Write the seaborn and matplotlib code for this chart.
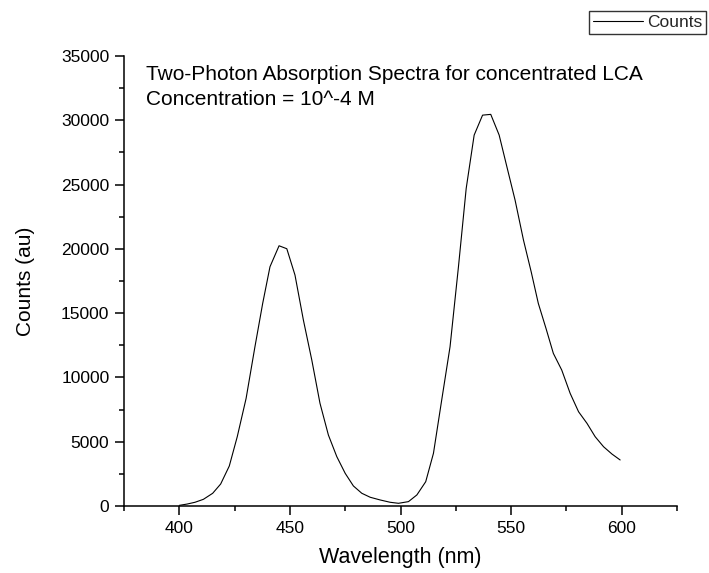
import matplotlib
matplotlib.use("Agg")
import matplotlib.pyplot as plt
import seaborn as sns
import pandas as pd
from matplotlib.ticker import MultipleLocator
from matplotlib.lines import Line2D

wavelength = [400.0, 403.5, 407.1, 410.9, 415.1, 418.7, 422.6, 426.2, 430.2, 434.2,
              437.7, 441.0, 445.1, 448.6, 452.3, 456.1, 459.9, 463.6, 467.4, 471.2,
              475.0, 478.7, 482.5, 486.3, 490.8, 495.3, 499.1, 503.6, 507.4, 511.4,
              514.9, 518.4, 522.4, 526.2, 529.7, 533.3, 537.1, 540.8, 544.6, 548.1,
              551.8, 555.6, 559.1, 562.3, 565.8, 569.1, 572.9, 576.7, 580.5, 584.3,
              588.0, 591.8, 595.6, 599.3]
counts = [50, 150, 290, 520, 990, 1710, 3110, 5390, 8370, 12390,
          15760, 18610, 20240, 20010, 17960, 14460, 11350, 7990, 5520, 3840,
          2540, 1560, 990, 680, 470, 290, 210, 340, 860, 1890,
          4100, 7990, 12390, 18610, 24700, 28850, 30400, 30460, 28850, 26380,
          23790, 20680, 18200, 15760, 13800, 11870, 10570, 8760, 7330, 6430,
          5390, 4610, 4040, 3580]

series_label = "Counts"
x_label = "Wavelength (nm)"
y_label = "Counts (au)"
annotation = "Two-Photon Absorption Spectra for concentrated LCA\nConcentration = 10^-4 M"

sns.set_theme(style="ticks")
plt.rcParams['font.family'] = ['Liberation Sans', 'DejaVu Sans']

df = pd.DataFrame({"Wavelength": wavelength, "Counts": counts, "series": series_label})

fig = plt.figure(figsize=(7.09, 5.73), dpi=100)
ax = fig.add_axes([124 / 709, 1 - 506 / 573, (677 - 124) / 709, (506 - 56) / 573])

sns.lineplot(data=df, x="Wavelength", y="Counts", hue="series", palette=["black"],
             linewidth=0.8, ax=ax, legend=False)

ax.set_xlim(375, 625)
ax.set_ylim(0, 35000)
ax.xaxis.set_major_locator(MultipleLocator(50))
ax.xaxis.set_minor_locator(MultipleLocator(25))
ax.yaxis.set_major_locator(MultipleLocator(5000))
ax.yaxis.set_minor_locator(MultipleLocator(2500))

for s in ["top", "right"]:
    ax.spines[s].set_visible(False)
for s in ["left", "bottom"]:
    ax.spines[s].set_linewidth(1.1)
    ax.spines[s].set_color("black")

ax.tick_params(axis="both", which="major", length=6.5, width=1.1, color="black",
               labelsize=12.5, labelcolor="black", pad=4, direction="out")
ax.tick_params(axis="both", which="minor", length=3.5, width=1.1, color="black",
               direction="out")

ax.set_xlabel(x_label, fontsize=15.5, color="black", labelpad=8)
ax.set_ylabel(y_label, fontsize=15, color="black", labelpad=19)

ax.text(0.04, 0.98, annotation, transform=ax.transAxes, fontsize=15,
        va="top", ha="left", color="black", linespacing=1.4)

handle = Line2D([], [], color="black", linewidth=0.8)
leg = fig.legend([handle], [series_label], loc="upper right",
                 bbox_to_anchor=(706 / 709, 1 - 11 / 573),
                 fontsize=12.5, frameon=True, fancybox=False, shadow=False,
                 handlelength=2.9, handletextpad=0.2, borderpad=0.22,
                 borderaxespad=0.0)
leg.get_frame().set_edgecolor("black")
leg.get_frame().set_linewidth(1.0)

fig.savefig("out.png", dpi=100)
